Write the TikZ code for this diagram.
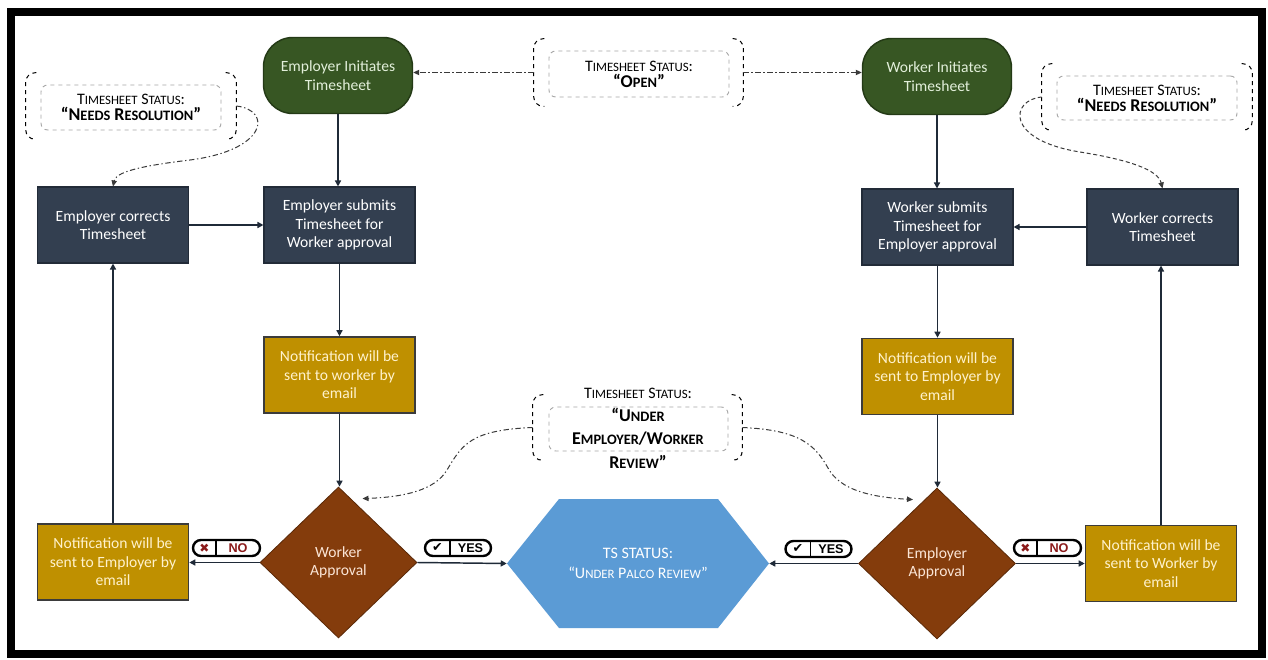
\documentclass[tikz,border=0pt]{standalone}
\usepackage{fontspec}
\setmainfont{Carlito}
\newfontfamily\arialfont{Liberation Sans}
\newfontfamily\djv{DejaVu Sans}
\usetikzlibrary{shapes.geometric,arrows.meta,calc}
\definecolor{navy}{HTML}{333F50}
\definecolor{navyline}{HTML}{222B38}
\definecolor{dgreen}{HTML}{375623}
\definecolor{dgreenline}{HTML}{243A16}
\definecolor{gold}{HTML}{BF9000}
\definecolor{goldline}{HTML}{3B3B3B}
\definecolor{brownfill}{HTML}{843C0C}
\definecolor{brownline}{HTML}{5A2908}
\definecolor{hexblue}{HTML}{5B9BD5}
\definecolor{connc}{HTML}{1F2A38}
\definecolor{ddc}{HTML}{3A3A3A}
\definecolor{maroonc}{HTML}{8B1A1A}
\definecolor{lightgold}{HTML}{FFF2CC}
\definecolor{lightgreen}{HTML}{E2EFDA}
\definecolor{lightpeach}{HTML}{FBE5D6}
\definecolor{innerc}{HTML}{A6A6A6}
\newcommand\sma[1]{{\fontsize{9.6}{10}\selectfont #1}}
\newcommand\smb[1]{{\fontsize{10.8}{10}\selectfont #1}}
\newcommand\drawbrackets[1]{%
  \draw[brk] ([xshift=8pt]#1.north west) -- (#1.north west) -- (#1.south west) -- ([xshift=8pt]#1.south west);
  \draw[brk] ([xshift=-8pt]#1.north east) -- (#1.north east) -- (#1.south east) -- ([xshift=-8pt]#1.south east);}
\begin{document}
\begin{tikzpicture}[x=0.75pt,y=-0.75pt,
  boxtext/.style={font=\fontsize{11.7}{13.9}\selectfont, align=center},
  box/.style={rectangle, boxtext, fill=navy, draw=navyline, line width=0.8pt,
    minimum width=113.25pt, minimum height=57pt, inner sep=2pt, text=white},
  gbox/.style={box, fill=dgreen, draw=dgreenline, line width=1.1pt, rounded corners=22pt,
    minimum width=111.75pt, text=lightgreen},
  nbox/.style={box, fill=gold, draw=goldline, line width=1.2pt, text=lightgold},
  dia/.style={diamond, boxtext, fill=brownfill, draw=brownline, line width=0.6pt,
    minimum width=117.75pt, minimum height=113.25pt, inner sep=0pt, text=lightpeach},
  conn/.style={draw=connc, line width=1.1pt, -{Triangle[length=4.5pt,width=4.5pt]}},
  dd/.style={draw=ddc, line width=0.75pt, dash pattern=on 4pt off 2pt on 1pt off 2pt,
    -{Triangle[length=4.5pt,width=4pt]}},
  ds/.style={dd, dash pattern=on 3pt off 2pt},
  ibox/.style={draw=innerc, dashed, rounded corners=5pt, line width=0.7pt, inner sep=0pt,
    align=center, text=black},
  brk/.style={draw=black, dashed, line width=0.75pt, rounded corners=7pt},
  outer/.style={inner sep=0pt},
  pill/.style={draw=black, line width=1.8pt, fill=white, rounded corners=6pt,
    minimum height=12pt, inner sep=0pt},
  nobadge/.pic={
    \node[pill, minimum width=50.25pt] (-p) at (0,0) {};
    \draw[line width=1.3pt] (-10.5,-8) -- (-10.5,8);
    \node[font=\djv\fontsize{9}{9}\selectfont, text=maroonc] (-x) at (-22,0) {✖};
    \node[font=\arialfont\bfseries\fontsize{9.5}{10}\selectfont, text=maroonc] (-t) at (11.5,0.5) {NO};
  },
  yesbadge/.pic={
    \node[pill, minimum width=49.5pt] (-p) at (0,0) {};
    \draw[line width=1.3pt] (-8,-8) -- (-8,8);
    \node[font=\djv\fontsize{9.5}{9}\selectfont, text=black] (-c) at (-20.5,0) {✔};
    \node[font=\arialfont\bfseries\fontsize{9.5}{10}\selectfont, text=black] (-t) at (12.5,0.5) {YES};
  }
]
\useasboundingbox (0,0) rectangle (1268,660);
\fill[white] (0,0) rectangle (1268,660);
\draw[line width=6pt] (11,12) rectangle (1261.5,654);

% main nodes
\node[gbox] (einit) at (338,75.5) {Employer Initiates\\Timesheet};
\node[gbox] (winit) at (937,76.5) {Worker Initiates\\Timesheet};
\node[box] (ecorr) at (113,225) {Employer corrects\\Timesheet};
\node[box] (esub) at (339.5,225) {Employer submits\\Timesheet for\\Worker approval};
\node[box] (wsub) at (937.5,227) {Worker submits\\Timesheet for\\Employer approval};
\node[box] (wcorr) at (1162.5,227) {Worker corrects\\Timesheet};
\node[nbox] (nw) at (339.5,375) {Notification will be\\sent to worker by\\email};
\node[nbox] (ne) at (937.5,376.5) {Notification will be\\sent to Employer by\\email};
\node[nbox] (neb) at (113,562) {Notification will be\\sent to Employer by\\email};
\node[nbox] (nwb) at (1161,563.5) {Notification will be\\sent to Worker by\\email};
\node[dia] (wappr) at (338.5,562.5) {Worker\\Approval};
\node[dia] (eappr) at (937,563.5) {Employer\\Approval};

% hexagon
\fill[hexblue] (507,563.5) -- (559,499) -- (718,499) -- (769,563.5) -- (718,628) -- (559,628) -- cycle;
\node[minimum width=196.5pt, minimum height=96.75pt, inner sep=0pt, align=center,
  text=white, font=\fontsize{12}{15}\selectfont] (hex) at (638,563.5)
  {TS STATUS:\\“U\sma{NDER} P\sma{ALCO} R\sma{EVIEW}”};

% status callouts
\node[outer, minimum width=157.5pt, minimum height=49.5pt] (brNRL) at (131,106) {};
\drawbrackets{brNRL}
\node[ibox, minimum width=135pt, minimum height=33.75pt] (iNRL) at (131,107.5)
  {\fontsize{12}{15}\selectfont T\sma{IMESHEET} S\sma{TATUS}:\\
   \bfseries\fontsize{13.5}{15}\selectfont “N\smb{EEDS} R\smb{ESOLUTION}”};

\node[outer, minimum width=156.75pt, minimum height=50.25pt] (brOpen) at (638.5,72.5) {};
\drawbrackets{brOpen}
\node[ibox, minimum width=135pt, minimum height=34.5pt] (iOpen) at (639,74)
  {\fontsize{12}{15}\selectfont T\sma{IMESHEET} S\sma{TATUS}:\\
   \bfseries\fontsize{13.5}{15}\selectfont “O\smb{PEN}”};

\node[outer, minimum width=157.5pt, minimum height=49.5pt] (brNRR) at (1147,97) {};
\drawbrackets{brNRR}
\node[ibox, minimum width=135pt, minimum height=33pt] (iNRR) at (1147,98)
  {\fontsize{12}{15}\selectfont T\sma{IMESHEET} S\sma{TATUS}:\\
   \bfseries\fontsize{13.5}{15}\selectfont “N\smb{EEDS} R\smb{ESOLUTION}”};

\node[outer, minimum width=156.75pt, minimum height=48.75pt] (brUR) at (637.5,427.5) {};
\drawbrackets{brUR}
\node[ibox, minimum width=134.25pt, minimum height=33pt] (iUR) at (638.5,429) {};
\node[align=center, text=black, font=\bfseries\fontsize{13.5}{17.5}\selectfont] (tUR) at (638,428)
  {{\mdseries\fontsize{12}{14}\selectfont T\sma{IMESHEET} S\sma{TATUS}:}\\
   “U\smb{NDER}\\E\smb{MPLOYER}/W\smb{ORKER}\\R\smb{EVIEW}”};

% solid connectors
\draw[conn] (einit.south) -- (einit.south |- esub.north);
\draw[conn] (ecorr.east) -- (esub.west);
\draw[conn] (esub.south) -- (esub.south |- nw.north);
\draw[conn] (nw.south) -- (nw.south |- wappr.north);
\draw[conn] (wappr.west) -- (wappr.west -| neb.east);
\draw[conn] (neb.north) -- (neb.north |- ecorr.south);
\draw[conn] (wappr.east) -- (hex.west);
\draw[conn] (eappr.west) -- (hex.east);
\draw[conn] (eappr.east) -- (eappr.east -| nwb.west);
\draw[conn] (nwb.north) -- (nwb.north |- wcorr.south);
\draw[conn] (wcorr.west) -- (wsub.east);
\draw[conn] (winit.south) -- (winit.south |- wsub.north);
\draw[conn] (wsub.south) -- (wsub.south |- ne.north);
\draw[conn] (ne.south) -- (ne.south |- eappr.north);

% dash-dot status connectors
\draw[dd] (brOpen.west) -- (brOpen.west -| einit.east);
\draw[dd] (brOpen.east) -- (brOpen.east -| winit.west);
\draw[dd] (brNRL.east) .. controls (272,110) and (268,150) .. (190,160)
  .. controls (140,166) and (116,172) .. (ecorr.north);
\draw[ds] (brNRR.west) .. controls (1010,100) and (1005,140) .. (1080,152)
  .. controls (1130,160) and (1158,170) .. (wcorr.north);
\draw[dd] (brUR.west) .. controls (470,430) and (462,445) .. (447,470)
  .. controls (435,490) and (405,497) .. ([shift={(24,12)}]wappr.north);
\draw[dd] (brUR.east) .. controls (800,430) and (815,445) .. (828,468)
  .. controls (840,490) and (870,497) .. ([shift={(-24,12)}]eappr.north);

% badges
\pic (bnoL) at (226.5,548) {nobadge};
\pic (byesL) at (458,548) {yesbadge};
\pic (byesR) at (818.5,549) {yesbadge};
\pic (bnoR) at (1047.5,548) {nobadge};
\end{tikzpicture}
\end{document}
